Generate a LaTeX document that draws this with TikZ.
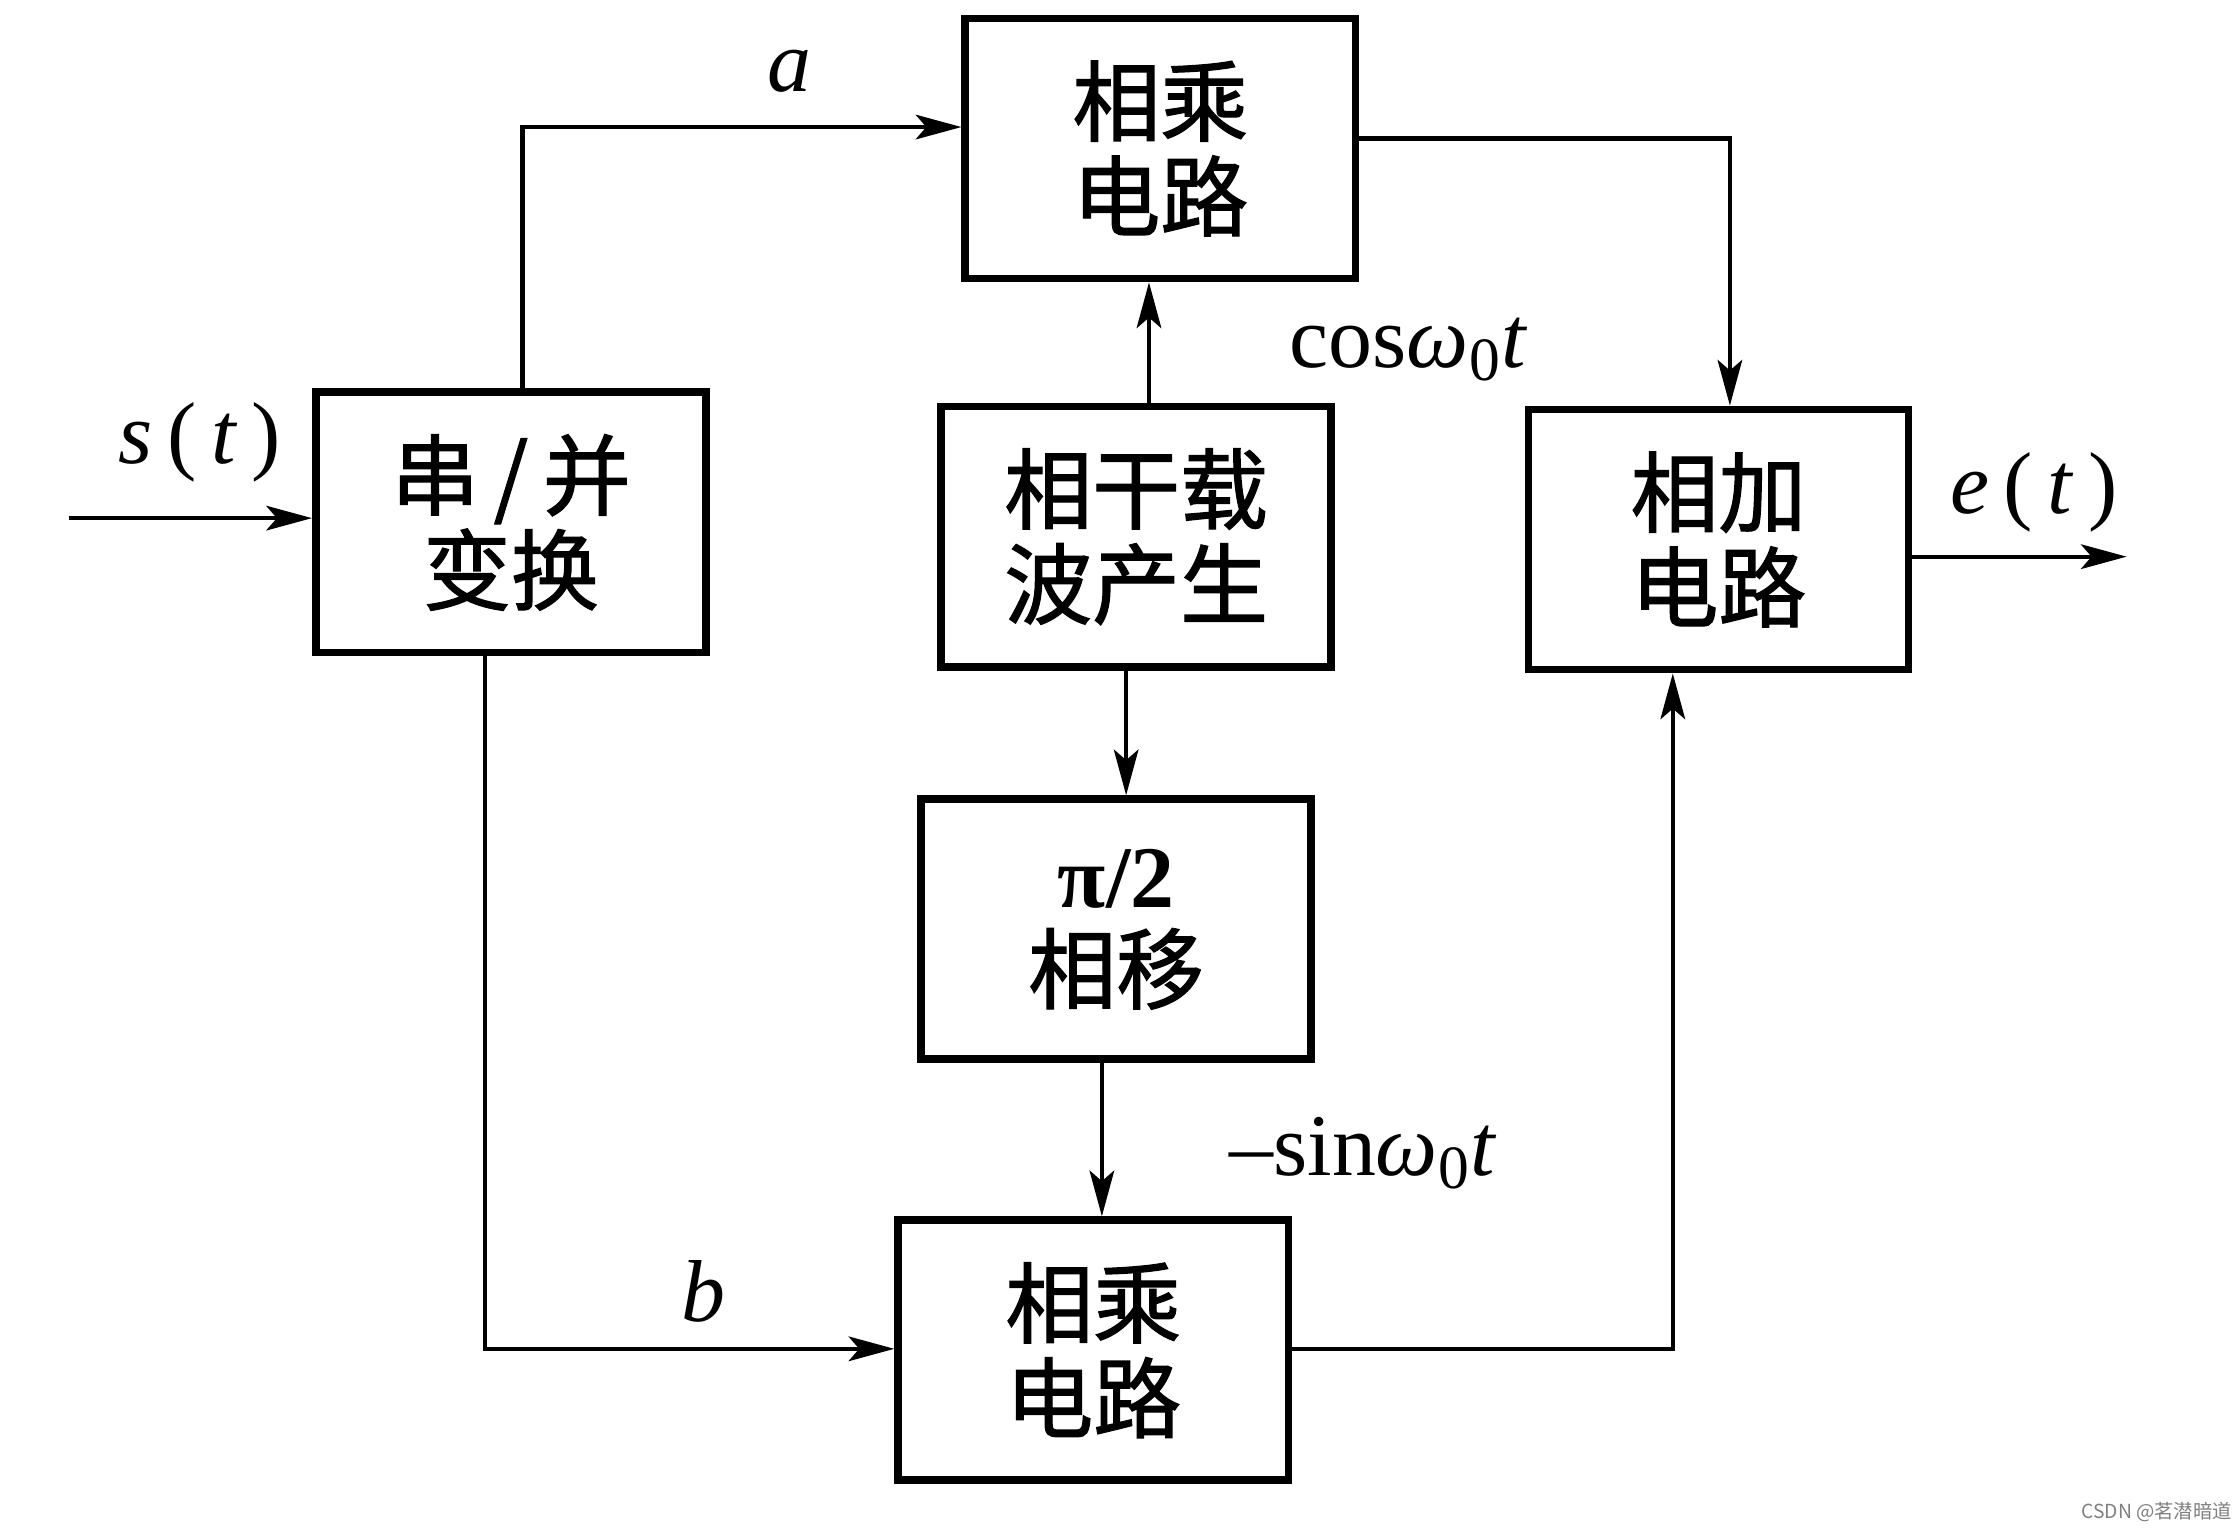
\documentclass[tikz,border=0pt]{standalone}
\usepackage{fontspec}
\newfontfamily\cjk{Noto Sans CJK SC}[FakeBold=1.4]
\newfontfamily\cjkw{Noto Sans CJK SC}
\newfontfamily\tms{Liberation Serif}
\usetikzlibrary{arrows.meta}
\begin{document}
\begin{tikzpicture}[x=0.01427cm,y=-0.01427cm,
  blk/.style={draw,line width=2.2pt,minimum width=3.9cm,minimum height=2.6cm,align=center,
    inner sep=0pt,font=\cjk\fontsize{25}{27}\selectfont},
  arr/.style={line width=1.2pt,-{Stealth[length=13pt,width=7pt,inset=3pt]}},
  lbl/.style={font=\tms\fontsize{25}{28}\selectfont,inner sep=0pt}]
\useasboundingbox[fill=white] (0,0) rectangle (1568,1073);
% blocks
\node[blk] (S)  at (358,366) {串\,/\,并\\变换};
\node[blk] (M1) at (813,104) {相乘\\电路};
\node[blk] (C)  at (796,376) {相干载\\波产生};
\node[blk] (P)  at (782,651) {{\tms\bfseries π/2}\\相移};
\node[blk] (M2) at (766,946) {相乘\\电路};
\node[blk,minimum width=3.8cm] (A) at (1204,378) {相加\\电路};
% helper coordinates
\coordinate (in)  at (48,363);
\coordinate (ax)  at (366,89);
\coordinate (bx)  at (340,945);
\coordinate (cx)  at (805,0);
\coordinate (px)  at (789,0);
\coordinate (qx)  at (772,0);
\coordinate (r1)  at (1212,97);
\coordinate (r2)  at (1172,945);
\coordinate (out) at (1490,390);
% connectors
\draw[arr] (in) -- (in -| S.west);
\draw[arr] (S.north -| ax) |- (M1.west |- ax);
\draw[arr] (S.south -| bx) |- (M2.west |- bx);
\draw[arr] (C.north -| cx) -- (M1.south -| cx);
\draw[arr] (C.south -| px) -- (P.north -| px);
\draw[arr] (P.south -| qx) -- (M2.north -| qx);
\draw[arr] (M1.east |- r1) -| (A.north -| r1);
\draw[arr] (M2.east |- r2) -| (A.south -| r2);
\draw[arr] (A.east |- out) -- (out);
% labels
\node[lbl] (la) at (553,50) {\textit{a}};
\node[lbl] (lb) at (493,905) {\textit{b}};
\node[lbl] (ls) at (140,310) {\textit{s}\,(\,\textit{t}\,)};
\node[lbl] (le) at (1425,345) {\textit{e}\,(\,\textit{t}\,)};
\node[lbl] (lc) at (987,245) {cos\textit{ω}\textsubscript{0}\textit{t}};
\node[lbl] (ln) at (955,808) {–sin\textit{ω}\textsubscript{0}\textit{t}};
\node[font=\cjkw\fontsize{5.5}{6}\selectfont,text=black!50,inner sep=0pt] (wm) at (1511,1059) {CSDN @茗潜暗道};
\end{tikzpicture}
\end{document}
